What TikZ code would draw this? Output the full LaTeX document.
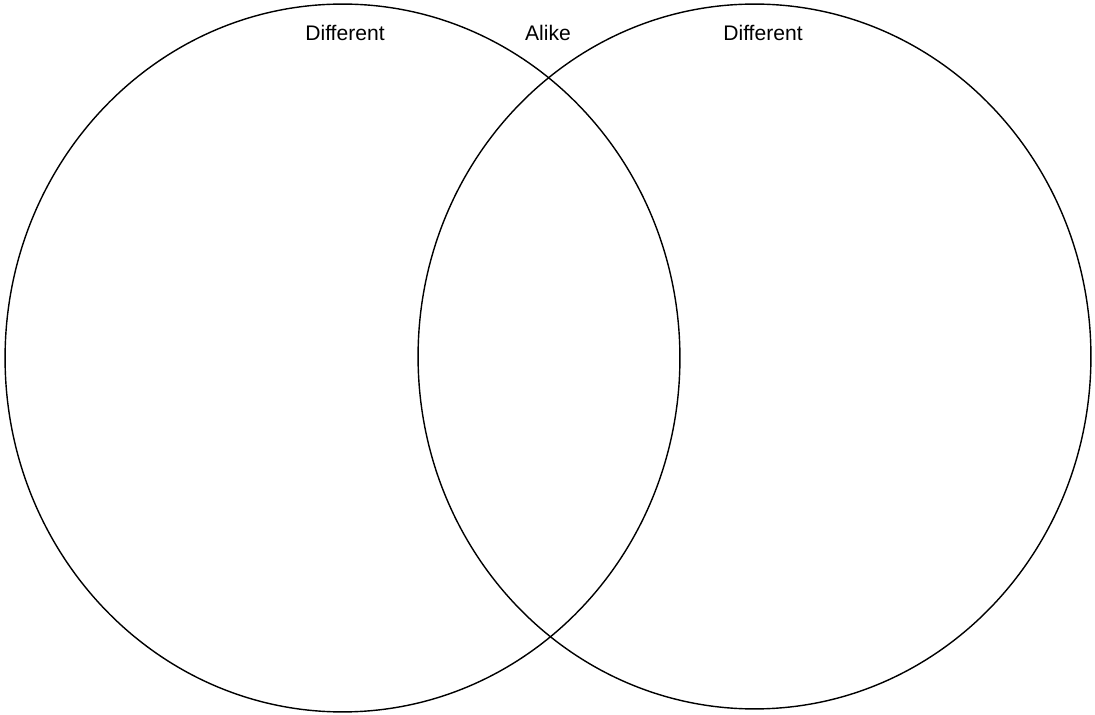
\documentclass[tikz,border=0pt]{standalone}
\usepackage{fontspec}
\setmainfont{Liberation Sans}
\usepackage{tikz}
\usetikzlibrary{positioning,shapes.geometric}

\begin{document}
\begin{tikzpicture}[
    x=0.02cm, y=-0.02cm,
    every node/.style={font=\fontsize{12}{14}\selectfont},
    setring/.style={ellipse, draw, line width=0.8pt, inner sep=0pt, outer sep=0pt},
    tag/.style={inner sep=1pt, anchor=center},
]
    \useasboundingbox (0,0) rectangle (1095,715);
    \node[setring, minimum width=13.5cm, minimum height=14.16cm] (leftset) at (342.5,358) {};
    \node[setring, minimum width=13.46cm, minimum height=14.1cm] (rightset) at (754.5,356.5) {};

    \node[tag] (difleft) at (345,33) {Different};
    \node[tag] (alike) at (548,33) {Alike};
    \node[tag] (difright) at (763,33) {Different};
\end{tikzpicture}
\end{document}
